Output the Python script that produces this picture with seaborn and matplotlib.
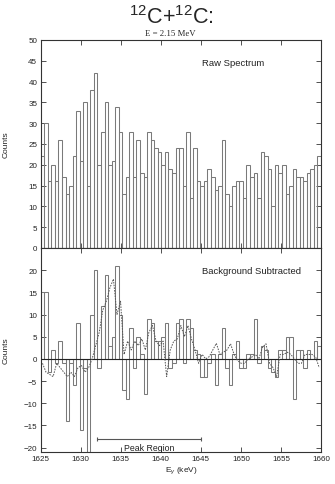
import numpy as np
import pandas as pd
import matplotlib
matplotlib.use("Agg")
import matplotlib.pyplot as plt
import seaborn as sns

# Gamma-ray spectrum, 12C+12C at E = 2.15 MeV
e_start, e_stop = 1625.0, 1660.0
n_bins = 79

raw_counts = [22, 30, 16, 20, 16, 26, 17, 13, 15, 22, 33, 21, 35, 15, 38, 42, 20, 28, 35, 20,
              21, 34, 28, 13, 17, 28, 17, 26, 18, 17, 28, 26, 24, 23, 20, 23, 19, 18, 24, 24,
              15, 28, 12, 24, 16, 15, 16, 19, 17, 14, 15, 26, 13, 10, 15, 16, 16, 12, 20, 17,
              18, 12, 23, 22, 19, 10, 20, 18, 20, 13, 15, 19, 17, 17, 16, 18, 19, 20, 22]

subtracted = [15, 15, -3, 2, -1, 4, -1, -14, -1, -6, 8, -16, -2, -21, 10, 20, -2, 12, 19, 3,
              5, 21, 10, -7, -9, 7, -2, 5, 1, -8, 9, 8, 4, 4, 5, 8, -2, -1, 8, 9,
              -1, 9, 7, 2, 1, -4, -4, -1, 1, -6, 1, 7, -2, -6, 1, 4, -2, -2, 1, 1,
              9, -1, 3, 2, -2, -3, -4, 2, 2, 5, 5, -9, 2, 2, -2, 2, 0, 4, 3]

simulated = [-1, -3, -3.5, -4, -1, -2, -3, -4, -3, -4, -2, -1.5, -3, -2, 0, 3, 6, 11, 13, 16,
             18, 10, 13, 1, 4, 2, 4, 3, 4.5, 2, 6, 7.5, 4, 3, 4, -4, 2, 4, 4.5, 7.5,
             5, 7.5, 4.5, 2, -1, 1, 0, 0.5, 2, 3.5, 1, 1.5, 2, 3.4, 1, -0.4, -1, -1, 0, 0.4,
             1, 0, 2.6, 3.4, -1, -2, -4, 1, 1, 1.5, 1, 0, -1, -1, 1, 1, 1, 0.4, -2]

peak_region = (1632, 1645)

edges = np.linspace(e_start, e_stop, n_bins + 1)
centers = 0.5 * (edges[:-1] + edges[1:])
df = pd.DataFrame({"energy": centers, "raw": raw_counts,
                   "sub": subtracted, "sim": simulated})

sns.set_style("ticks")
plt.rcParams["font.family"] = ["Liberation Sans", "DejaVu Sans"]
plt.rcParams["mathtext.fontset"] = "custom"
plt.rcParams["mathtext.rm"] = "Liberation Sans"
plt.rcParams["mathtext.it"] = "Liberation Sans:italic"
plt.rcParams["axes.linewidth"] = 0.8
plt.rcParams["axes.edgecolor"] = "#333333"

bar_color = "#7a7a7a"
fig = plt.figure(figsize=(3.35, 4.85), dpi=100)
ax1 = fig.add_axes([0.1215, 0.4866, 0.8367, 0.4289])
ax2 = fig.add_axes([0.1215, 0.0660, 0.8367, 0.4206], sharex=ax1)

bin_list = edges.tolist()
sns.histplot(data=df, x="energy", weights="raw", bins=bin_list, fill=False,
             element="bars", color=bar_color, linewidth=0.75, ax=ax1)
sns.histplot(data=df, x="energy", weights="sub", bins=bin_list, fill=False,
             element="bars", color=bar_color, linewidth=0.75, ax=ax2)
ax2.axhline(0, color="#222222", lw=0.8, zorder=3)
sns.lineplot(data=df, x="energy", y="sim", ax=ax2, color="#555555",
             lw=0.7, linestyle=(0, (1.6, 1.2)), zorder=4)

ax1.set_xlim(e_start, e_stop)
ax1.set_ylim(0, 50)
ax2.set_ylim(-21, 25)
ax1.set_yticks(np.arange(0, 51, 5))
ax2.set_yticks(np.arange(-20, 21, 5))
ax2.set_xticks(np.arange(1625, 1661, 5))

for ax in (ax1, ax2):
    ax.tick_params(direction="in", top=True, right=True, length=3.5, width=0.6,
                   labelsize=5.8, colors="#333333", labelcolor="#222222")
    ax.tick_params(axis="y", pad=2.5)
    ax.tick_params(axis="x", pad=2)
    ax.set_ylabel("Counts", fontsize=6)
    ax.yaxis.set_label_coords(-0.112, 0.5)
ax1.tick_params(labelbottom=False)
ax1.set_xlabel("")
ax2.set_xlabel(r"E$_{\gamma}$ (keV)", fontsize=6, labelpad=1.5)

ax1.text(0.574, 0.894, "Raw Spectrum", transform=ax1.transAxes,
         fontsize=6.8, ha="left", va="center", color="#222222")
ax2.text(0.574, 0.889, "Background Subtracted", transform=ax2.transAxes,
         fontsize=6.8, ha="left", va="center", color="#222222")

# peak region marker
ax2.plot(peak_region, [-18, -18], color="#555555", lw=0.8, marker="|",
         markersize=3, markeredgewidth=0.8)
ax2.text(np.mean(peak_region), -20, "Peak Region", fontsize=6.3,
         ha="center", va="center", color="#222222")

fig.text(0.512, 0.963, r"$^{12}$C+$^{12}$C:", fontsize=15.5,
         ha="center", va="center")
fig.text(0.509, 0.929, "E = 2.15 MeV", fontsize=6.3, ha="center", va="center",
         family=["Liberation Serif", "DejaVu Serif"])

fig.savefig("out.png", dpi=100)
